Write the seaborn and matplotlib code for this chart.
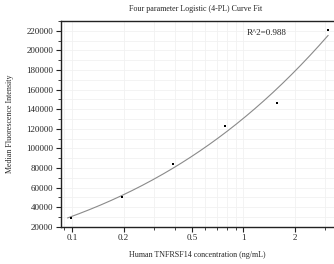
import numpy as np
import pandas as pd
import seaborn as sns
import matplotlib
matplotlib.use("Agg")
import matplotlib.pyplot as plt
from matplotlib.ticker import LogLocator, FixedLocator, FixedFormatter, MultipleLocator, NullFormatter

# data
concentration = [0.098, 0.195, 0.39, 0.78, 1.5625, 3.125]
mfi = [28800, 50700, 83800, 123000, 146300, 221300]
r_squared = 0.988

x_ticks = [0.1, 0.2, 0.5, 1, 2]
x_tick_labels = ["0.1", "0.2", "0.5", "1", "2"]
y_ticks = list(range(20000, 220001, 20000))

df = pd.DataFrame({"conc": concentration, "mfi": mfi})


# 4PL fit: for fixed b, c the model is linear in a and d
def fit_4pl(x, y):
    x = np.asarray(x, float)
    y = np.asarray(y, float)
    best = None
    for b in np.linspace(0.3, 3.0, 91):
        for c in np.logspace(-1, 2, 151):
            g = 1.0 / (1.0 + (x / c) ** b)
            A = np.column_stack([g, 1 - g])
            coef, *_ = np.linalg.lstsq(A, y, rcond=None)
            err = np.sum((A @ coef - y) ** 2)
            if best is None or err < best[0]:
                best = (err, coef[0], b, c, coef[1])
    return best[1:]


a, b, c, d = fit_4pl(concentration, mfi)
xs = np.logspace(np.log10(0.094), np.log10(3.125), 200)
curve = pd.DataFrame({"conc": xs, "mfi": d + (a - d) / (1 + (xs / c) ** b)})

sns.set_theme(style="white")
plt.rcParams["font.family"] = ["Liberation Serif", "DejaVu Serif"]

fig = plt.figure(figsize=(3.34, 2.64), dpi=100)
ax = fig.add_axes([0.182, 0.141, 0.818, 0.781])

sns.lineplot(data=curve, x="conc", y="mfi", ax=ax, color="#8a8a8a", linewidth=0.8)
sns.scatterplot(data=df, x="conc", y="mfi", ax=ax, color="black", marker="s",
                s=4.5, linewidth=0, zorder=3)

ax.set_xscale("log")
ax.set_xlim(0.0859, 3.38)
ax.set_ylim(20000, 230500)

ax.xaxis.set_major_locator(FixedLocator(x_ticks))
ax.xaxis.set_major_formatter(FixedFormatter(x_tick_labels))
ax.xaxis.set_minor_locator(LogLocator(base=10, subs=np.arange(1, 10)))
ax.xaxis.set_minor_formatter(NullFormatter())
ax.yaxis.set_major_locator(FixedLocator(y_ticks))
ax.yaxis.set_minor_locator(MultipleLocator(10000))

ax.grid(True, which="both", color="#f1f1f1", linewidth=0.6)
ax.set_axisbelow(True)

for side in ["left", "bottom", "top"]:
    ax.spines[side].set_color("#222222")
    ax.spines[side].set_linewidth(1.0)
ax.spines["right"].set_visible(False)

ax.tick_params(axis="both", which="major", direction="out", length=3.5, width=0.8,
               labelsize=6.5, color="#222222", pad=2, bottom=True, left=True)
ax.tick_params(axis="both", which="minor", direction="out", length=2, width=0.6,
               color="#222222", bottom=True, left=True)
ax.tick_params(axis="x", which="both", top=False)

ax.set_xlabel("Human TNFRSF14 concentration (ng/mL)", fontsize=5.8, labelpad=6)
ax.set_ylabel("Median Fluorescence Intensity", fontsize=5.8, labelpad=9)
fig.text(0.585, 0.966, "Four parameter Logistic (4-PL) Curve Fit", ha="center",
         va="center", fontsize=5.8)
ax.text(0.68, 0.94, "R^2=%.3f" % r_squared, transform=ax.transAxes, ha="left",
        va="center", fontsize=6.5)

fig.savefig("out.png", dpi=100)
